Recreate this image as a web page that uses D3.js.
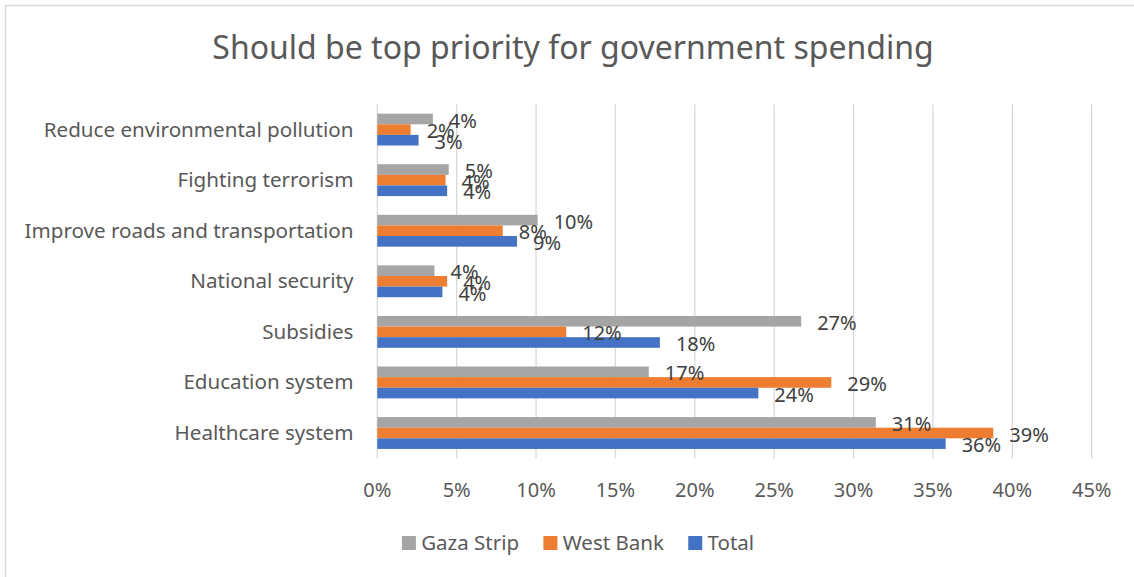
<!DOCTYPE html>
<html>
<head>
<meta charset="utf-8">
<script src="https://cdn.jsdelivr.net/npm/d3@7"></script>
<style>
  html, body { margin: 0; padding: 0; background: #fff; }
  svg { display: block; font-family: "Noto Sans", "Open Sans", sans-serif; }
</style>
</head>
<body>
<svg id="chart" width="1134" height="577"></svg>
<script>
// Categories, listed top to bottom
const categories = [
  "Reduce environmental pollution",
  "Fighting terrorism",
  "Improve roads and transportation",
  "National security",
  "Subsidies",
  "Education system",
  "Healthcare system"
];

// Share of respondents (%) per region
const gazaStrip = [3.5, 4.5, 10.1, 3.6, 26.7, 17.1, 31.4];
const westBank  = [2.1, 4.3, 7.9, 4.4, 11.9, 28.6, 38.8];
const total     = [2.6, 4.4, 8.8, 4.1, 17.8, 24.0, 35.8];

const seriesNames = ["Gaza Strip", "West Bank", "Total"];
const seriesValues = [gazaStrip, westBank, total];
const seriesColors = ["#A5A5A5", "#ED7D31", "#4472C4"];

const xTicks = [0, 5, 10, 15, 20, 25, 30, 35, 40, 45];
const titleText = "Should be top priority for government spending";

const svg = d3.select("#chart");
const W = 1134, H = 577;

// Chart frame
svg.append("rect")
  .attr("x", 5.5).attr("y", 5.5)
  .attr("width", W).attr("height", H)
  .attr("fill", "#fff")
  .attr("stroke", "#D9D9D9")
  .attr("stroke-width", 1.5);

// Scales
const x = d3.scaleLinear().domain([0, 45]).range([377.3, 1091.7]);
const y0 = d3.scaleBand().domain(categories).range([104.3, 458.3])
  .paddingInner(0.37).paddingOuter(0.185);
const y1 = d3.scaleBand().domain(seriesNames).range([0, y0.bandwidth()]);

// Title
svg.append("text")
  .attr("x", 573).attr("y", 59.3)
  .attr("text-anchor", "middle")
  .attr("font-size", 32)
  .attr("fill", "#595959")
  .text(titleText);

// Vertical gridlines
svg.append("g").selectAll("line")
  .data(xTicks)
  .join("line")
  .attr("x1", d => x(d)).attr("x2", d => x(d))
  .attr("y1", y0.range()[0]).attr("y2", y0.range()[1])
  .attr("stroke", "#D9D9D9")
  .attr("stroke-width", 1.3);

// X axis tick labels
svg.append("g").selectAll("text")
  .data(xTicks)
  .join("text")
  .attr("x", d => x(d))
  .attr("y", 497.3)
  .attr("text-anchor", "middle")
  .attr("font-size", 20)
  .attr("fill", "#595959")
  .text(d => d + "%");

// Category labels
svg.append("g").selectAll("text")
  .data(categories)
  .join("text")
  .attr("x", 353.5)
  .attr("y", d => y0(d) + y0.bandwidth() / 2 + 7)
  .attr("text-anchor", "end")
  .attr("font-size", 20.6)
  .attr("fill", "#595959")
  .text(d => d);

// Flatten series into bar records
const bars = [];
seriesNames.forEach((s, si) => {
  categories.forEach((c, ci) => {
    bars.push({ series: s, category: c, value: seriesValues[si][ci], color: seriesColors[si] });
  });
});

// Bars
svg.append("g").selectAll("rect")
  .data(bars)
  .join("rect")
  .attr("x", x(0))
  .attr("y", d => y0(d.category) + y1(d.series))
  .attr("width", d => x(d.value) - x(0))
  .attr("height", y1.bandwidth())
  .attr("fill", d => d.color);

// Value labels at outside end of each bar
svg.append("g").selectAll("text")
  .data(bars)
  .join("text")
  .attr("x", d => x(d.value) + 16)
  .attr("y", d => y0(d.category) + y1(d.series) + y1.bandwidth() / 2 + 8.6)
  .attr("font-size", 20)
  .attr("fill", "#404040")
  .text(d => Math.round(d.value) + "%");

// Legend
const legend = svg.append("g");
let lx = 0;
seriesNames.forEach((name, i) => {
  const g = legend.append("g");
  g.append("rect").attr("x", 0).attr("y", -7).attr("width", 14).attr("height", 14)
    .attr("fill", seriesColors[i]);
  const t = g.append("text").attr("x", 19.3).attr("y", 7.3)
    .attr("font-size", 20.5).attr("fill", "#595959").text(name);
  const w = 19.3 + t.node().getComputedTextLength();
  g.attr("transform", `translate(${lx},0)`);
  lx += w + 24.3;
});
const legendWidth = lx - 24.3;
legend.attr("transform", `translate(${578 - legendWidth / 2},543)`);
</script>
</body>
</html>
